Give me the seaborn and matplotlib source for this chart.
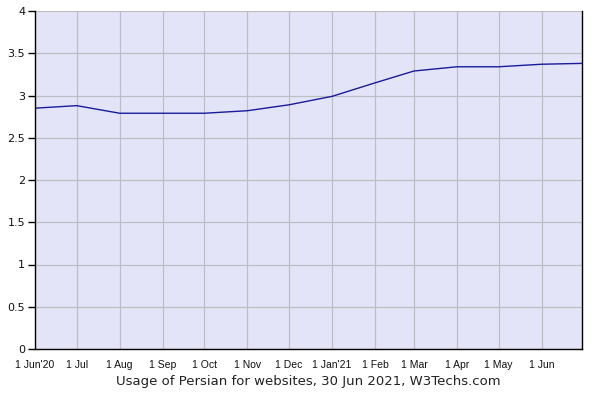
import matplotlib
matplotlib.use("Agg")
import matplotlib.pyplot as plt
import seaborn as sns
import pandas as pd

dates = ["2020-06-01", "2020-07-01", "2020-08-01", "2020-09-01", "2020-10-01",
         "2020-11-01", "2020-12-01", "2021-01-01", "2021-02-01", "2021-03-01",
         "2021-04-01", "2021-05-01", "2021-06-01", "2021-06-30"]
usage = [2.85, 2.88, 2.79, 2.79, 2.79, 2.82, 2.89, 2.99, 3.15, 3.29, 3.34, 3.34, 3.37, 3.38]
tick_labels = ["1 Jun'20", "1 Jul", "1 Aug", "1 Sep", "1 Oct", "1 Nov", "1 Dec",
               "1 Jan'21", "1 Feb", "1 Mar", "1 Apr", "1 May", "1 Jun"]
y_ticks = [0, 0.5, 1, 1.5, 2, 2.5, 3, 3.5, 4]
y_labels = ["0", "0.5", "1", "1.5", "2", "2.5", "3", "3.5", "4"]
title = "Usage of Persian for websites, 30 Jun 2021, W3Techs.com"

df = pd.DataFrame({"date": pd.to_datetime(dates), "usage": usage})

sns.set_theme(style="white")
fig = plt.figure(figsize=(5.94, 3.98), dpi=100)
ax = fig.add_axes([35/594, 49/398, 547/594, 338/398])
ax.set_facecolor("#e4e4f9")

sns.lineplot(data=df, x="date", y="usage", ax=ax, color="#1a1a9a", linewidth=1.0)

ax.set_xlim(pd.Timestamp("2020-06-01"), pd.Timestamp("2021-06-30"))
ax.set_ylim(0, 4)
tick_dates = pd.to_datetime(dates[:-1])
ax.set_xticks(tick_dates)
ax.set_xticklabels(tick_labels, fontfamily="Liberation Sans", fontsize=7.5, color="#111111")
ax.set_yticks(y_ticks)
ax.set_yticklabels(y_labels, fontfamily="DejaVu Sans", fontsize=8, color="#111111")
ax.grid(True, color="#bdbdc4", linewidth=0.9)
ax.set_axisbelow(True)
ax.tick_params(axis="y", which="both", left=True, length=5, width=1, color="black", pad=2, direction="out")
ax.tick_params(axis="x", which="both", bottom=False, pad=2)
for side in ["left", "bottom", "right"]:
    ax.spines[side].set_color("black")
    ax.spines[side].set_linewidth(1.0)
ax.spines["top"].set_visible(False)
ax.set_xlabel("")
ax.set_ylabel("")

fig.text((35 + 547/2)/594, 1 - 381/398, title, ha="center", va="center",
         fontfamily="DejaVu Sans", fontsize=9.5, color="#222222")

fig.savefig("out.png", dpi=100)
